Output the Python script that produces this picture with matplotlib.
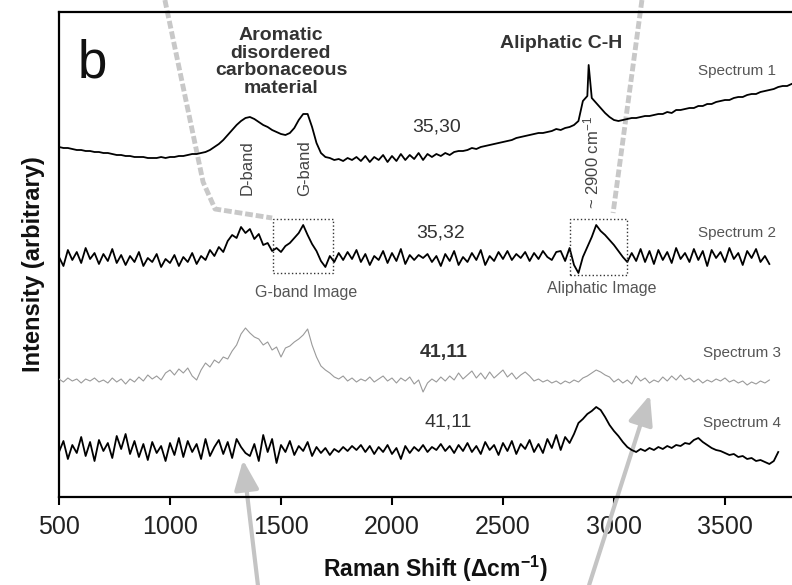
import numpy as np
import matplotlib.pyplot as plt
from matplotlib.patches import Rectangle

plt.rcParams['font.family'] = ['Liberation Sans', 'DejaVu Sans']
plt.rcParams['mathtext.fontset'] = 'custom'
plt.rcParams['mathtext.rm'] = 'Liberation Sans'
plt.rcParams['mathtext.bf'] = 'Liberation Sans:bold'
plt.rcParams['mathtext.it'] = 'Liberation Sans:italic'

# spectra sampled every 20 cm-1 starting at 500, already offset (arbitrary units)
START = 500
STEP = 20

spectrum1 = [
    350, 349, 349, 348, 347, 347, 346, 346, 345, 345, 344, 344, 343, 342, 342, 341, 341, 340, 340, 340,
    339, 339, 339, 340, 339, 340, 340, 341, 341, 342, 343, 343, 344, 345, 347, 350, 353, 357, 362, 367,
    372, 376, 379, 380, 378, 375, 372, 370, 367, 365, 363, 362, 364, 369, 377, 383, 383, 370, 354, 344,
    340, 339, 337, 338, 336, 339, 337, 340, 336, 341, 335, 340, 337, 342, 335, 341, 336, 343, 337, 342,
    338, 344, 337, 343, 340, 343, 341, 344, 342, 345, 346, 346, 347, 349, 348, 350, 351, 352, 353, 354,
    355, 356, 357, 359, 360, 361, 362, 363, 364, 364, 365, 366, 368, 367, 369, 370, 372, 376, 396, 401,
    399, 394, 389, 384, 380, 377, 376, 377, 378, 379, 379, 380, 381, 381, 382, 383, 383, 385, 384, 387,
    387, 388, 389, 389, 391, 391, 393, 393, 395, 396, 397, 397, 399, 400, 400, 402, 403, 403, 405, 406,
    407, 408, 410, 411, 411, 413,
]
# narrow C-H line on top of spectrum 1
ch_spike_x = 2886
ch_spike_y = 432

spectrum2 = [
    240, 231, 247, 237, 245, 234, 249, 238, 244, 233, 243, 236, 248, 234, 242, 232, 241, 235, 245, 231,
    239, 235, 243, 230, 238, 234, 242, 231, 240, 235, 244, 233, 241, 237, 247, 241, 250, 245, 256, 262,
    259, 270, 264, 268, 258, 263, 252, 254, 246, 249, 245, 251, 254, 259, 264, 272, 262, 253, 246, 236,
    230, 241, 235, 244, 237, 245, 238, 247, 235, 243, 232, 241, 237, 246, 234, 244, 236, 248, 233, 242,
    237, 242, 239, 243, 235, 241, 231, 243, 236, 246, 232, 240, 235, 244, 237, 247, 232, 241, 236, 245,
    238, 246, 237, 243, 239, 245, 236, 244, 238, 246, 240, 237, 245, 246, 236, 249, 232, 224, 240, 250,
    260, 272, 266, 262, 257, 252, 246, 240, 235, 244, 236, 248, 235, 246, 233, 247, 237, 245, 234, 249,
    238, 244, 235, 248, 237, 246, 231, 247, 239, 245, 235, 249, 238, 244, 232, 246, 239, 248, 235, 241,
    233,
]

spectrum3 = [
    118, 115, 119, 116, 118, 114, 118, 116, 119, 115, 117, 114, 119, 115, 118, 113, 118, 115, 120, 116,
    122, 118, 121, 117, 124, 127, 122, 128, 124, 129, 121, 117, 127, 134, 130, 137, 134, 140, 138, 146,
    152, 163, 169, 164, 160, 158, 152, 155, 147, 150, 140, 149, 151, 155, 158, 162, 168, 152, 140, 131,
    127, 124, 120, 118, 121, 116, 119, 115, 118, 116, 120, 115, 118, 121, 116, 119, 114, 119, 116, 120,
    113, 117, 105, 114, 118, 115, 120, 116, 121, 117, 124, 118, 122, 126, 119, 124, 118, 125, 119, 123,
    127, 120, 124, 118, 122, 125, 121, 116, 118, 115, 117, 114, 116, 113, 116, 114, 117, 115, 119, 121,
    124, 127, 125, 122, 120, 115, 118, 114, 117, 113, 121, 116, 119, 114, 117, 115, 120, 116, 121, 117,
    122, 117, 119, 115, 118, 114, 117, 115, 118, 116, 119, 115, 117, 114, 116, 112, 115, 113, 116, 114,
    117,
]

spectrum4 = [
    45, 56, 38, 52, 44, 60, 41, 55, 36, 57, 46, 54, 39, 61, 48, 63, 43, 56, 40, 53,
    37, 55, 44, 51, 36, 54, 42, 59, 40, 56, 45, 53, 38, 58, 41, 50, 57, 43, 55, 39,
    58, 50, 44, 41, 53, 36, 62, 45, 58, 34, 52, 45, 56, 42, 51, 46, 55, 41, 50, 44,
    49, 42, 48, 45, 50, 46, 51, 47, 52, 45, 51, 43, 50, 45, 52, 43, 49, 38, 51, 44,
    50, 46, 52, 45, 50, 47, 53, 46, 51, 44, 52, 46, 54, 45, 51, 43, 55, 47, 52, 42,
    54, 46, 56, 43, 53, 48, 57, 45, 53, 44, 58, 49, 62, 47, 60, 54, 63, 74, 78, 83,
    86, 90, 87, 80, 72, 66, 61, 55, 50, 47, 45, 48, 46, 49, 47, 50, 48, 51, 49, 52,
    51, 54, 53, 57, 59, 55, 52, 49, 47, 46, 44, 42, 43, 40, 41, 38, 39, 36, 37, 35,
    33, 36, 45,
]

x_ticks = [500, 1000, 1500, 2000, 2500, 3000, 3500]

# labels next to each spectrum: (x, y, text)
ratio_labels = [(2202, 370, '35,30'), (2220, 264, '35,32'), (2234, 145, '41,11'), (2252, 75, '41,11')]
spectrum_names = [(3553, 426, 'Spectrum 1'), (3553, 264, 'Spectrum 2'),
                  (3576, 144, 'Spectrum 3'), (3576, 74, 'Spectrum 4')]

x1 = START + STEP * np.arange(len(spectrum1))
y1 = np.array(spectrum1, dtype=float)
k = np.searchsorted(x1, ch_spike_x)
x1 = np.insert(x1, k, ch_spike_x)
y1 = np.insert(y1, k, ch_spike_y)
x2 = START + STEP * np.arange(len(spectrum2))
x3 = START + STEP * np.arange(len(spectrum3))
x4 = START + STEP * np.arange(len(spectrum4))

fig = plt.figure(figsize=(7.92, 5.85), dpi=100)
ax = fig.add_axes([59 / 792, 1 - 497 / 585, 733 / 792, 485 / 585])

ax.plot(x1, y1, color='black', lw=1.3, zorder=3)
ax.plot(x2, spectrum2, color='black', lw=1.3, zorder=3)
ax.plot(x3, spectrum3, color='#9a9a9a', lw=0.8, zorder=3)
ax.plot(x4, spectrum4, color='black', lw=1.3, zorder=3)

ax.set_xlim(500, 3802)
ax.set_ylim(0, 485)
ax.set_xticks(x_ticks)
ax.set_xticklabels([str(t) for t in x_ticks], fontsize=18, color='#222222')
ax.set_yticks([])
ax.tick_params(axis='x', direction='out', length=6, width=1.5, pad=7)
ax.spines['right'].set_visible(False)
for s in ['left', 'top', 'bottom']:
    ax.spines[s].set_linewidth(1.6)

ax.set_xlabel(r'Raman Shift ($\mathbf{\Delta}$cm$^{\mathbf{-1}}$)', fontsize=16.5, fontweight='bold', color='#111111')
ax.xaxis.set_label_coords(0.513, -0.118)
ax.set_ylabel('Intensity (arbitrary)', fontsize=17, fontweight='bold', color='#111111')
ax.yaxis.set_label_coords(-0.019, 0.48)

# zoom guide lines (gray dashed)
ax.plot([977, 1149, 1203, 1460], [497, 315, 288, 279], color='#c8c8c8', lw=3.5,
        ls=(0, (1.6, 0.6)), clip_on=False, zorder=1)
ax.plot([3126, 2996], [497, 284], color='#c8c8c8', lw=3.5,
        ls=(0, (1.6, 0.6)), clip_on=False, zorder=1)

# image boxes
ax.add_patch(Rectangle((1464, 224), 270, 54, fill=False, ls=':', lw=1.0, ec='#333333', zorder=4))
ax.add_patch(Rectangle((2802, 222), 257, 56, fill=False, ls=':', lw=1.0, ec='#333333', zorder=4))

# arrows pointing at the bands
arrow = dict(arrowstyle='-|>,head_length=1.2,head_width=0.5', mutation_scale=15,
             color='#c4c4c4', lw=3, shrinkA=0, shrinkB=0)
ax.annotate('', xy=(1329, 37), xytext=(1396, -88), arrowprops=arrow, annotation_clip=False, zorder=2)
ax.annotate('', xy=(3162, 102), xytext=(2888, -88), arrowprops=arrow, annotation_clip=False, zorder=2)

ax.text(586, 420, 'b', fontsize=38, color='#111111', ha='left', va='baseline')
ax.text(1500, 435, 'Aromatic\ndisordered\ncarbonaceous\nmaterial', fontsize=14, fontweight='bold',
        color='#333333', ha='center', va='center', linespacing=1.05)
ax.text(2760, 454, 'Aliphatic C-H', fontsize=14, fontweight='bold', color='#333333', ha='center', va='center')
ax.text(1347, 329, 'D-band', fontsize=12, color='#444444', rotation=90, ha='center', va='center')
ax.text(1607, 329, 'G-band', fontsize=12, color='#444444', rotation=90, ha='center', va='center')
ax.text(2900, 334, r'~ 2900 cm$^{-1}$', fontsize=12, color='#444444', rotation=90, ha='center', va='center')
ax.text(1612, 204, 'G-band Image', fontsize=11.5, color='#555555', ha='center', va='center')
ax.text(2944, 209, 'Aliphatic Image', fontsize=11.5, color='#555555', ha='center', va='center')

for i, (x, y, t) in enumerate(ratio_labels):
    ax.text(x, y, t, fontsize=14, color='#333333', ha='center', va='center',
            fontweight='bold' if i == 2 else 'normal')
for x, y, t in spectrum_names:
    ax.text(x, y, t, fontsize=11, color='#555555', ha='center', va='center')

fig.savefig('out.png', dpi=100)
